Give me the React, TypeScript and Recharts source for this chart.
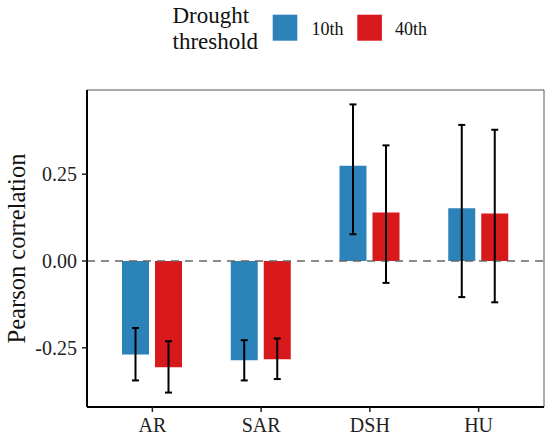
import React from "react";
import { BarChart, Bar, XAxis, YAxis, ErrorBar, ReferenceLine, CartesianGrid } from "recharts";

const categories = ["AR", "SAR", "DSH", "HU"];
const t10 = [-0.269, -0.286, 0.274, 0.152];
const t40 = [-0.306, -0.283, 0.14, 0.137];
const t10Lower = [-0.344, -0.344, 0.077, -0.104];
const t10Upper = [-0.193, -0.228, 0.451, 0.392];
const t40Lower = [-0.379, -0.34, -0.063, -0.119];
const t40Upper = [-0.231, -0.223, 0.333, 0.378];
const yTicks = [-0.25, 0, 0.25];
const legendTitle = ["Drought", "threshold"];
const seriesNames = ["10th", "40th"];

const BLUE = "#2c83ba";
const RED = "#d7191c";
const FONT = '"Liberation Serif", serif';

const data = categories.map((c, i) => ({
  cat: c,
  t10: t10[i],
  t40: t40[i],
  e10: [t10[i] - t10Lower[i], t10Upper[i] - t10[i]],
  e40: [t40[i] - t40Lower[i], t40Upper[i] - t40[i]],
}));

const YTitle = (props: any) => {
  const vb = props.viewBox || {};
  const cy = (vb.y ?? 90) + (vb.height ?? 316) / 2;
  return (
    <text
      x={0}
      y={0}
      transform={`translate(25, ${cy}) rotate(-90)`}
      textAnchor="middle"
      style={{ fontFamily: FONT }}
      fontSize={24.5}
      fill="#111"
    >
      Pearson correlation
    </text>
  );
};

const tickStyle = { fontSize: 20, fill: "#222", style: { fontFamily: FONT } };

export default function App() {
  return (
    <div
      style={{
        position: "absolute",
        left: 0,
        top: 0,
        width: 550,
        height: 437,
        background: "#fff",
        fontFamily: FONT,
      }}
    >
      <BarChart
        width={550}
        height={437}
        data={data}
        margin={{ top: 90, right: 6, bottom: 0, left: 0 }}
        barGap={6}
        barSize={27}
        style={{ fontFamily: FONT }}
      >
        <CartesianGrid
          stroke="#555"
          strokeWidth={1}
          horizontalCoordinatesGenerator={(p: any) => [p.offset.top]}
          verticalCoordinatesGenerator={(p: any) => [p.offset.left + p.offset.width]}
        />
        <XAxis
          dataKey="cat"
          height={30}
          padding={{ left: 11, right: 11 }}
          tickSize={5}
          tickMargin={6}
          axisLine={{ stroke: "#000", strokeWidth: 2 }}
          tickLine={{ stroke: "#222", strokeWidth: 1.5 }}
          tick={tickStyle}
        />
        <YAxis
          width={87}
          domain={[-0.4205, 0.4925]}
          allowDataOverflow
          ticks={yTicks}
          tickFormatter={(v: number) => v.toFixed(2)}
          tickSize={5}
          tickMargin={5}
          axisLine={{ stroke: "#000", strokeWidth: 2 }}
          tickLine={{ stroke: "#222", strokeWidth: 1.5 }}
          tick={tickStyle}
          label={{ content: <YTitle /> }}
        />
        <ReferenceLine y={0} stroke="#666" strokeWidth={1.5} strokeDasharray="8 6" />
        <Bar dataKey="t10" fill={BLUE} isAnimationActive={false}>
          <ErrorBar dataKey="e10" width={3.5} stroke="#000" strokeWidth={2} direction="y" />
        </Bar>
        <Bar dataKey="t40" fill={RED} isAnimationActive={false}>
          <ErrorBar dataKey="e40" width={3.5} stroke="#000" strokeWidth={2} direction="y" />
        </Bar>
      </BarChart>
      <svg
        width={550}
        height={60}
        style={{ position: "absolute", left: 0, top: 0, fontFamily: FONT }}
      >
        <text x={172.5} y={22.5} fontSize={23} fill="#111">
          {legendTitle[0]}
        </text>
        <text x={172.5} y={49} fontSize={23} fill="#111">
          {legendTitle[1]}
        </text>
        <rect x={272.7} y={14.7} width={24.6} height={26} fill={BLUE} />
        <text x={311.5} y={35} fontSize={18} fill="#111">
          {seriesNames[0]}
        </text>
        <rect x={357.3} y={14.7} width={24.6} height={26} fill={RED} />
        <text x={395} y={35} fontSize={18} fill="#111">
          {seriesNames[1]}
        </text>
      </svg>
    </div>
  );
}
